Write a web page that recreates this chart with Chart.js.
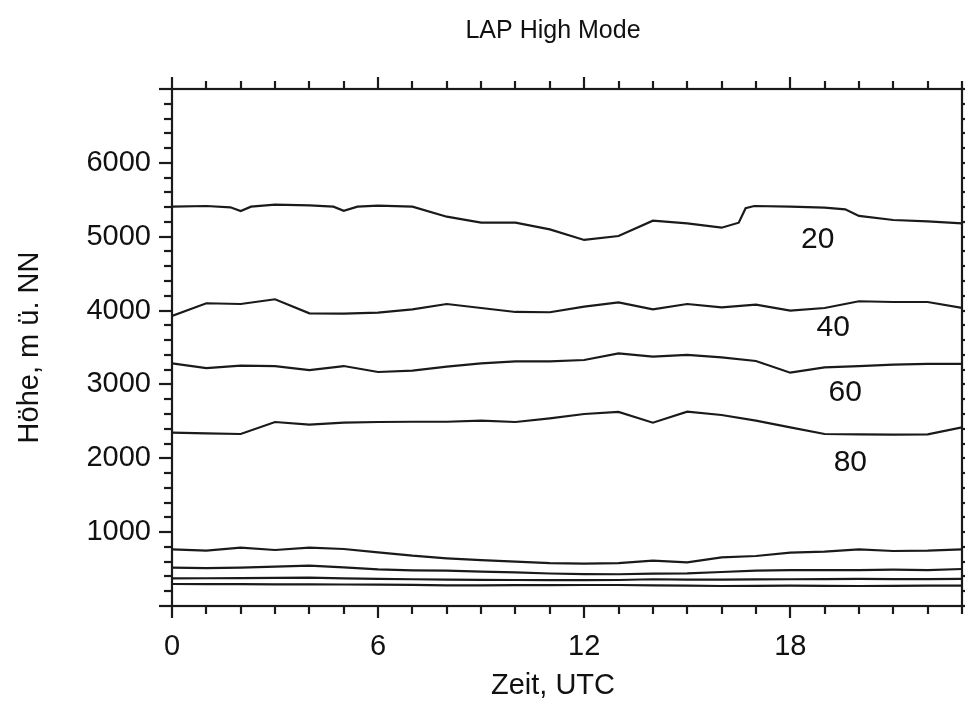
<!DOCTYPE html>
<html>
<head>
<meta charset="utf-8">
<title>LAP High Mode</title>
<script src="https://cdn.jsdelivr.net/npm/chart.js@4/dist/chart.umd.min.js"></script>
<style>
  html, body { margin: 0; padding: 0; background: #ffffff; }
  #wrap { width: 965px; height: 724px; position: relative; }
  canvas { display: block; }
</style>
</head>
<body>
<div id="wrap"><canvas id="chart" width="965" height="724"></canvas></div>
<script>
// Hourly time axis (UTC)
const hours = [0, 1, 2, 3, 4, 5, 6, 7, 8, 9, 10, 11, 12, 13, 14, 15, 16, 17, 18, 19, 20, 21, 22, 23];

// Upper contour (20) has a few sub-hourly kinks, so it carries its own times
const hours20 = [0, 1, 1.7, 2, 2.3, 3, 4, 4.7, 5, 5.4, 6, 7, 8, 9, 10, 11, 12, 13, 14, 15, 16, 16.5, 16.7, 16.95, 18, 19, 19.6, 20, 21, 22, 23];
const level20 = [5407, 5416, 5398, 5348, 5407, 5434, 5425, 5407, 5352, 5407, 5420, 5407, 5271, 5190, 5190, 5100, 4956, 5010, 5217, 5181, 5122, 5190, 5385, 5416, 5407, 5393, 5371, 5281, 5226, 5208, 5181];

const level40 = [3927, 4099, 4089, 4153, 3963, 3958, 3972, 4017, 4089, 4035, 3981, 3977, 4053, 4112, 4017, 4089, 4044, 4080, 3999, 4035, 4126, 4116, 4116, 4035];
const level60 = [3286, 3222, 3254, 3249, 3195, 3249, 3168, 3186, 3240, 3286, 3313, 3313, 3331, 3421, 3376, 3399, 3367, 3317, 3159, 3232, 3249, 3267, 3277, 3277];
const level80 = [2347, 2338, 2329, 2491, 2455, 2482, 2491, 2495, 2495, 2509, 2491, 2541, 2600, 2627, 2482, 2631, 2586, 2509, 2419, 2329, 2325, 2320, 2325, 2419];

// Unlabelled lower contours
const lowerA = [768, 749, 790, 758, 790, 772, 727, 681, 646, 620, 600, 580, 575, 580, 614, 591, 659, 677, 722, 736, 768, 745, 749, 768];
const lowerB = [519, 514, 519, 532, 546, 524, 496, 483, 478, 465, 455, 440, 432, 430, 438, 442, 460, 478, 487, 487, 487, 492, 487, 501];
const lowerC = [375, 376, 378, 380, 383, 375, 366, 362, 357, 355, 352, 350, 350, 352, 362, 358, 357, 360, 362, 364, 366, 364, 364, 366];
const lowerD = [298, 296, 295, 294, 293, 291, 289, 285, 280, 280, 282, 283, 284, 284, 280, 275, 271, 273, 275, 273, 271, 273, 275, 275];

// Tick labels
const xTickLabels = [0, 6, 12, 18];
const yTickLabels = [1000, 2000, 3000, 4000, 5000, 6000];

// Contour annotations: text and anchor (hour, height)
const contourText = ['20', '40', '60', '80'];
const contourHour = [18.8, 19.25, 19.6, 19.75];
const contourHeight = [4960, 3770, 2885, 1940];

const FONT = "'Liberation Sans', Arial, Helvetica, sans-serif";
const INK = '#1a1a1a';

function toPoints(xs, ys) { return ys.map((v, i) => ({ x: xs[i], y: v })); }

function lineSet(xs, ys) {
  return {
    data: toPoints(xs, ys),
    borderColor: INK,
    borderWidth: 2.2,
    pointRadius: 0,
    tension: 0,
    fill: false
  };
}

// Frame, outward tick marks on all four sides, annotations and titles
const framePlugin = {
  id: 'frame',
  afterDatasetsDraw(chart) {
    const { ctx, chartArea: a, scales: { x, y } } = chart;
    ctx.save();
    ctx.strokeStyle = INK;
    ctx.lineWidth = 2.2;
    ctx.lineCap = 'butt';
    ctx.strokeRect(a.left, a.top, a.right - a.left, a.bottom - a.top);

    const seg = (x1, y1, x2, y2) => { ctx.beginPath(); ctx.moveTo(x1, y1); ctx.lineTo(x2, y2); ctx.stroke(); };

    for (let h = x.min; h <= x.max; h += 1) {
      const px = Math.round(x.getPixelForValue(h));
      const len = h % 6 === 0 ? 12 : 8;
      seg(px, a.bottom, px, a.bottom + len);
      seg(px, a.top, px, a.top - len);
    }
    for (let v = y.min; v <= y.max; v += 200) {
      const py = Math.round(y.getPixelForValue(v));
      const len = v % 1000 === 0 ? 13 : 8;
      seg(a.left - len, py, a.left, py);
      seg(a.right, py, a.right + len, py);
    }

    ctx.fillStyle = '#111';
    ctx.textAlign = 'center';
    ctx.textBaseline = 'middle';
    ctx.font = '30px ' + FONT;
    contourText.forEach((t, i) => {
      ctx.fillText(t, x.getPixelForValue(contourHour[i]), y.getPixelForValue(contourHeight[i]));
    });

    const cx = (a.left + a.right) / 2 - 14;
    ctx.font = '25px ' + FONT;
    ctx.fillText('LAP High Mode', cx, 31);
    ctx.font = '29px ' + FONT;
    ctx.fillText('Zeit, UTC', cx, 686);

    ctx.save();
    ctx.translate(30, (a.top + a.bottom) / 2);
    ctx.rotate(-Math.PI / 2);
    ctx.fillText('Höhe, m ü. NN', 0, 0);
    ctx.restore();

    ctx.restore();
  }
};

new Chart(document.getElementById('chart'), {
  type: 'line',
  data: {
    datasets: [
      lineSet(hours20, level20),
      lineSet(hours, level40),
      lineSet(hours, level60),
      lineSet(hours, level80),
      lineSet(hours, lowerA),
      lineSet(hours, lowerB),
      lineSet(hours, lowerC),
      lineSet(hours, lowerD)
    ]
  },
  options: {
    responsive: false,
    animation: false,
    devicePixelRatio: 1,
    layout: { padding: { top: 89, right: 3, left: 0, bottom: 0 } },
    plugins: { legend: { display: false }, title: { display: false }, tooltip: { enabled: false } },
    scales: {
      x: {
        type: 'linear',
        min: 0,
        max: 23,
        afterBuildTicks(scale) { scale.ticks = xTickLabels.map(v => ({ value: v })); },
        afterFit(scale) { scale.height = 118; },
        grid: { display: false, drawTicks: false },
        border: { display: false },
        ticks: { color: '#111', padding: 24, maxRotation: 0, autoSkip: false, font: { family: FONT, size: 29 } }
      },
      y: {
        type: 'linear',
        min: 0,
        max: 7000,
        afterBuildTicks(scale) { scale.ticks = yTickLabels.map(v => ({ value: v })); },
        afterFit(scale) { scale.width = 172; },
        grid: { display: false, drawTicks: false },
        border: { display: false },
        ticks: { color: '#111', padding: 21, font: { family: FONT, size: 29 }, callback: v => String(v) }
      }
    }
  },
  plugins: [framePlugin]
});
</script>
</body>
</html>
